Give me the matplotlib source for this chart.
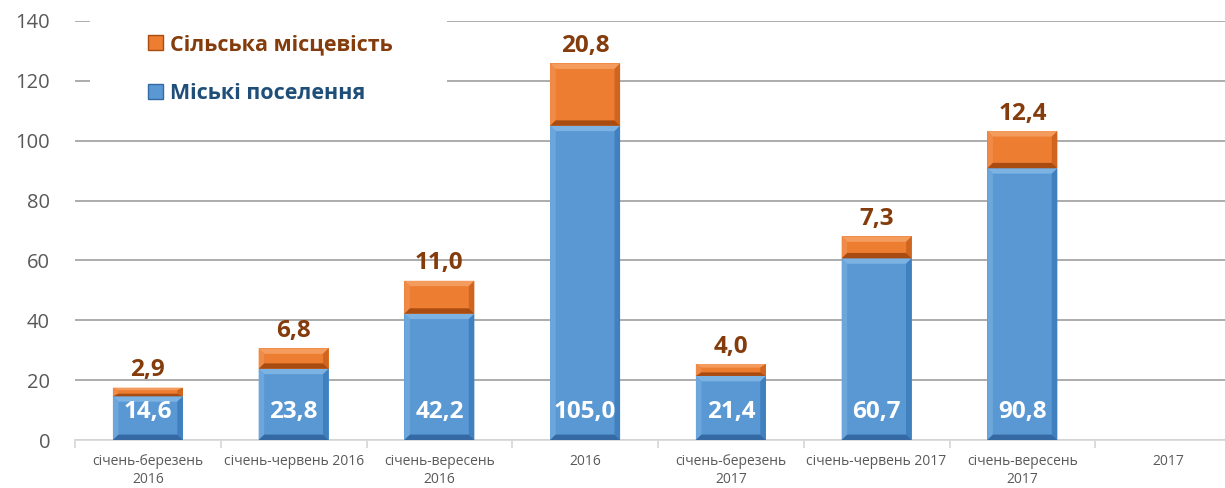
import matplotlib
matplotlib.use("Agg")
import matplotlib.pyplot as plt
from matplotlib.patches import Rectangle, Patch, Polygon
import numpy as np

plt.rcParams['font.family'] = ['Open Sans', 'DejaVu Sans']

categories = ["січень-березень\n2016", "січень-червень 2016", "січень-вересень\n2016", "2016",
              "січень-березень\n2017", "січень-червень 2017", "січень-вересень\n2017", "2017"]
urban = [14.6, 23.8, 42.2, 105.0, 21.4, 60.7, 90.8, np.nan]
rural = [2.9, 6.8, 11.0, 20.8, 4.0, 7.3, 12.4, np.nan]
series_names = ["Сільська місцевість", "Міські поселення"]
yticks = [0, 20, 40, 60, 80, 100, 120, 140]

BLUE = dict(face="#5A98D4", top="#7DB3E3", left="#6CA6DB", right="#4080BF", bottom="#3469A3")
ORANGE = dict(face="#ED7D31", top="#F49C5E", left="#F08B47", right="#CF651F", bottom="#A94C12")
ORANGE_TXT = "#843C0C"
BLUE_TXT = "#1F4E79"

fig = plt.figure(figsize=(12.25, 4.88), dpi=100)
ax = fig.add_axes([75/1225, 48/488, 1166/1225, 419/488])

x = np.arange(len(categories))
u = np.array(urban, dtype=float)
r = np.array(rural, dtype=float)
w = 0.48
DX = 0.038


def bevel_bars(bottom, height, pal):
    bars = ax.bar(x, height, w, bottom=bottom, color=pal["face"], edgecolor='none',
                  linewidth=0, zorder=3)
    for b in bars:
        h = b.get_height()
        if not np.isfinite(h) or h <= 0:
            continue
        x0, y0 = b.get_x(), b.get_y()
        x1, y1 = x0 + b.get_width(), y0 + h
        dy = min(1.8, 0.3 * h)
        ix0, ix1, iy0, iy1 = x0 + DX, x1 - DX, y0 + dy, y1 - dy
        polys = [
            ([(x0, y1), (x1, y1), (ix1, iy1), (ix0, iy1)], pal["top"]),
            ([(x0, y0), (x0, y1), (ix0, iy1), (ix0, iy0)], pal["left"]),
            ([(x1, y0), (x1, y1), (ix1, iy1), (ix1, iy0)], pal["right"]),
            ([(x0, y0), (x1, y0), (ix1, iy0), (ix0, iy0)], pal["bottom"]),
        ]
        for pts, c in polys:
            ax.add_patch(Polygon(pts, closed=True, facecolor=c, edgecolor='none', zorder=4))


bevel_bars(np.zeros_like(u), u, BLUE)
bevel_bars(u, r, ORANGE)

for xi, uv, rv in zip(x, u, r):
    if np.isnan(uv):
        continue
    ax.text(xi, 9.5, f"{uv:.1f}".replace('.', ','), ha='center', va='center',
            color='white', fontsize=17.5, fontweight='bold', zorder=6)
    ax.text(xi, uv + rv + 1.8, f"{rv:.1f}".replace('.', ','), ha='center', va='bottom',
            color=ORANGE_TXT, fontsize=17.5, fontweight='bold', zorder=6)

ax.set_xlim(-0.5, len(categories) - 0.5)
ax.set_ylim(0, 140)
ax.set_yticks(yticks)
ax.set_yticklabels([str(v) for v in yticks])
ax.set_xticks(x)
ax.set_xticklabels(categories)
ax.set_xticks(np.arange(len(categories) + 1) - 0.5, minor=True)

ax.grid(axis='y', color='#A6A6A6', linewidth=1.3, zorder=0)
ax.set_axisbelow(True)
for s in ['left', 'right', 'top']:
    ax.spines[s].set_visible(False)
ax.spines['bottom'].set_color('#D9D9D9')
ax.spines['bottom'].set_linewidth(1.3)
ax.spines['bottom'].set_zorder(2)

ax.tick_params(axis='y', length=0, pad=18, labelsize=14.5, labelcolor='#595959')
ax.tick_params(axis='x', which='major', length=0, pad=10, labelsize=10, labelcolor='#595959')
ax.tick_params(axis='x', which='minor', length=6, width=1.3, color='#D9D9D9')
for lbl in ax.get_xticklabels():
    lbl.set_linespacing(1.3)

# white legend background covering gridlines
ax.add_patch(Rectangle((15/1166, (440-125)/419), (447-90)/1166, 0.35, transform=ax.transAxes,
                       facecolor='white', edgecolor='none', zorder=1.5, clip_on=False))

handles = [Patch(facecolor=ORANGE["face"], edgecolor=ORANGE["bottom"], label=series_names[0]),
           Patch(facecolor=BLUE["face"], edgecolor=BLUE["bottom"], label=series_names[1])]
leg = ax.legend(handles=handles, loc='upper left', bbox_to_anchor=((148-75)/1166, (440-34)/419),
                frameon=False, handlelength=0.7, handleheight=0.7,
                handletextpad=0.3, labelspacing=1.3, borderaxespad=0, borderpad=0,
                prop={'weight': 'bold', 'size': 15.5})
leg.set_zorder(7)
for t, c in zip(leg.get_texts(), [ORANGE_TXT, BLUE_TXT]):
    t.set_color(c)

fig.savefig("out.png", dpi=100)
